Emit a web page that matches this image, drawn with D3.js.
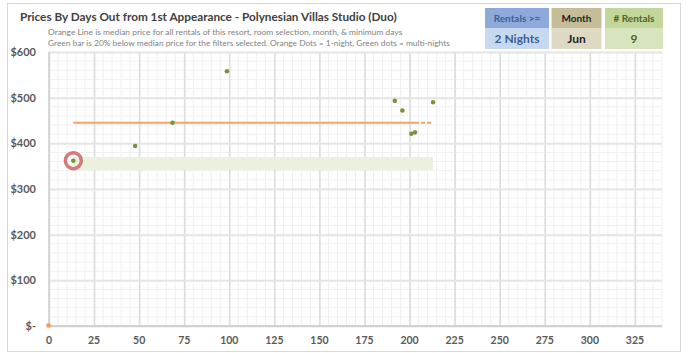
<!DOCTYPE html>
<html>
<head>
<meta charset="utf-8">
<script src="https://cdn.jsdelivr.net/npm/d3@7"></script>
<style>
  body { margin: 0; background: #fff; }
  svg { display: block; font-family: Lato, "Open Sans", sans-serif; }
</style>
</head>
<body>
<div id="chart"></div>
<script>
// data
const multiDays  = [13.5, 47.8, 68.5, 98.7, 191.8, 196, 201, 203, 213];
const multiPrice = [362, 394, 445, 558, 493, 472, 421, 424, 490];
const oneDays    = [0];
const onePrice   = [0];
const medianPrice = 445;
const medianRange = [13.5, 203, 213];   // start, solid end, dashed end
const barPrice = 356;                    // 20% below median
const barRange = [13.5, 213];
const circled = { days: 13.5, price: 362 };
const xTicks = [0, 25, 50, 75, 100, 125, 150, 175, 200, 225, 250, 275, 300, 325];
const yTicks = [0, 100, 200, 300, 400, 500, 600];
const boxes = [
  { head: "Rentals >=", val: "2 Nights", hc: "#8eaadb", vc: "#c6d9f0", tc: "#3e5f93" },
  { head: "Month",      val: "Jun",      hc: "#c4bd97", vc: "#ddd9c3", tc: "#1f1f1f" },
  { head: "# Rentals",  val: "9",        hc: "#c3d69b", vc: "#d7e4bd", tc: "#4f6228" }
];

const W = 690, H = 353;
const svg = d3.select("#chart").append("svg").attr("width", W).attr("height", H);

svg.append("rect").attr("x", 7.5).attr("y", 3.5).attr("width", 673).attr("height", 348)
  .attr("fill", "#fff").attr("stroke", "#d9d9d9");

const x = d3.scaleLinear().domain([0, 340]).range([49, 662]);
const y = d3.scaleLinear().domain([0, 600]).range([326, 52]);

// minor grid
svg.append("g").selectAll("line.mx").data(d3.range(0, 341, 5)).join("line")
  .attr("x1", d => x(d)).attr("x2", d => x(d)).attr("y1", y(600)).attr("y2", y(0))
  .attr("stroke", "#f0f0f0").attr("stroke-width", 1);
svg.append("g").selectAll("line.my").data(d3.range(0, 601, 20)).join("line")
  .attr("x1", x(0)).attr("x2", x(340)).attr("y1", d => y(d)).attr("y2", d => y(d))
  .attr("stroke", "#f0f0f0").attr("stroke-width", 1);

// major grid
svg.append("g")
  .attr("transform", `translate(0,${y(0)})`)
  .call(d3.axisBottom(x).tickValues(xTicks).tickSize(-(y(0) - y(600))).tickFormat(""))
  .call(g => g.select(".domain").remove())
  .selectAll(".tick line").attr("stroke", "#dcdcdc").attr("stroke-width", 1.5);
svg.append("g")
  .attr("transform", `translate(${x(0)},0)`)
  .call(d3.axisLeft(y).tickValues(yTicks).tickSize(-(x(340) - x(0))).tickFormat(""))
  .call(g => g.select(".domain").remove())
  .selectAll(".tick line").attr("stroke", "#e5e5e5").attr("stroke-width", 2);

// axes lines
svg.append("line").attr("x1", x(0)).attr("x2", x(340)).attr("y1", y(0)).attr("y2", y(0))
  .attr("stroke", "#c8c8c8").attr("stroke-width", 1.5);
svg.append("line").attr("x1", x(0)).attr("x2", x(0)).attr("y1", y(0)).attr("y2", y(600))
  .attr("stroke", "#d0d0d0").attr("stroke-width", 1.5);

// tick labels
svg.append("g").selectAll("text").data(yTicks).join("text")
  .attr("x", 36).attr("y", d => y(d)).attr("dy", "0.35em").attr("text-anchor", "end")
  .attr("font-size", 11).attr("font-weight", "bold").attr("fill", "#595959")
  .text(d => d === 0 ? "$-" : "$" + d);
svg.append("g").selectAll("text").data(xTicks).join("text")
  .attr("x", d => x(d)).attr("y", 344).attr("text-anchor", "middle")
  .attr("font-size", 10.5).attr("font-weight", "bold").attr("fill", "#595959")
  .text(d => d);

// green bar (20% below median)
svg.append("line")
  .attr("x1", x(barRange[0])).attr("x2", x(barRange[1]))
  .attr("y1", y(barPrice)).attr("y2", y(barPrice))
  .attr("stroke", "#ebf1de").attr("stroke-width", 13);

// median line
svg.append("line")
  .attr("x1", x(medianRange[0])).attr("x2", x(medianRange[1]))
  .attr("y1", y(medianPrice)).attr("y2", y(medianPrice))
  .attr("stroke", "#f4a26a").attr("stroke-width", 2);
svg.append("line")
  .attr("x1", x(medianRange[1])).attr("x2", x(medianRange[2]))
  .attr("y1", y(medianPrice)).attr("y2", y(medianPrice))
  .attr("stroke", "#f4a26a").attr("stroke-width", 2).attr("stroke-dasharray", "4,2");

// highlight ring
svg.append("circle").attr("cx", x(circled.days)).attr("cy", y(circled.price)).attr("r", 8)
  .attr("fill", "none").attr("stroke", "#cf7c7a").attr("stroke-width", 3.5);

// dots
svg.append("g").selectAll("circle").data(multiDays.map((d, i) => [d, multiPrice[i]])).join("circle")
  .attr("cx", d => x(d[0])).attr("cy", d => y(d[1])).attr("r", 2.3).attr("fill", "#77933c");
svg.append("g").selectAll("rect").data(oneDays.map((d, i) => [d, onePrice[i]])).join("rect")
  .attr("x", d => x(d[0]) - 2.5).attr("y", d => y(d[1]) - 2.5).attr("width", 4).attr("height", 4)
  .attr("fill", "#f79646");

// title + notes, font size fitted to the width seen in the picture
function fitText(t, width) {
  const fs = +t.attr("font-size");
  const w = t.node().getComputedTextLength();
  t.attr("font-size", (fs * width / w).toFixed(2));
}
fitText(svg.append("text").attr("x", 20).attr("y", 21).attr("font-size", 14.5).attr("font-weight", "bold")
  .attr("fill", "#404040")
  .text("Prices By Days Out from 1st Appearance - Polynesian Villas Studio (Duo)"), 377);
fitText(svg.append("text").attr("x", 48).attr("y", 35).attr("font-size", 9.5).attr("fill", "#7f7f7f")
  .text("Orange Line is median price for all rentals of this resort, room selection, month, & minimum days"), 355);
fitText(svg.append("text").attr("x", 48).attr("y", 46).attr("font-size", 9.5).attr("fill", "#7f7f7f")
  .text("Green bar is 20% below median price for the filters selected. Orange Dots = 1-night, Green dots = multi-nights"), 402);

// filter boxes
const bx = [[485, 64], [551.5, 50], [605, 58]];
boxes.forEach((b, i) => {
  const [x0, w] = bx[i];
  svg.append("rect").attr("x", x0).attr("y", 8).attr("width", w).attr("height", 20).attr("fill", b.hc);
  svg.append("rect").attr("x", x0).attr("y", 28).attr("width", w).attr("height", 21).attr("fill", b.vc);
  svg.append("text").attr("x", x0 + w / 2).attr("y", 22).attr("text-anchor", "middle")
    .attr("font-size", 10).attr("font-weight", "bold").attr("fill", b.tc).text(b.head);
  svg.append("text").attr("x", x0 + w / 2).attr("y", 43).attr("text-anchor", "middle")
    .attr("font-size", 12).attr("font-weight", "bold").attr("fill", b.tc).text(b.val);
});
</script>
</body>
</html>
